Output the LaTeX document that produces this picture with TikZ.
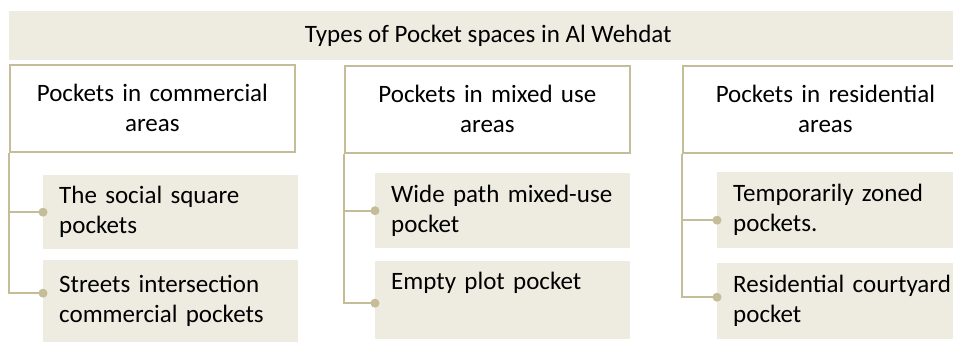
\documentclass[tikz,border=0pt]{standalone}
\usepackage{fontspec}
\setmainfont{Carlito}
\definecolor{tanline}{HTML}{C4BD97}
\definecolor{tanfill}{HTML}{EEECE1}
\begin{document}
\begin{tikzpicture}[x=1pt,y=-1pt,
  every node/.style={font=\fontsize{25}{30}\selectfont, text=black},
  titlebar/.style={fill=tanfill, draw=none, anchor=north west, inner sep=0pt,
    minimum width=958pt, minimum height=49pt},
  parentbox/.style={draw=tanline, line width=1.8pt, fill=white, anchor=north west,
    inner sep=0pt, align=center, text width=285pt, minimum height=87pt},
  childbox/.style={fill=tanfill, draw=none, anchor=north west, align=left,
    inner xsep=16pt, inner ysep=0pt, text width=223pt, minimum height=76pt},
  linkline/.style={draw=tanline, line width=1.8pt},
  linkdot/.style={fill=tanline}
]
\useasboundingbox (0,0) rectangle (953,342);
\clip (0,0) rectangle (953,342);

% heading bar
\node[titlebar] (top) at (9,11) {Types of Pocket spaces in Al Wehdat};

% category boxes
\node[parentbox] (com) at (9,64)   {Pockets in commercial\\areas};
\node[parentbox] (mix) at (344,65) {Pockets in mixed use\\areas};
\node[parentbox] (res) at (682,65) {Pockets in residential\\areas};

% pocket types
\node[childbox, minimum height=74pt] (soc) at (43,175)  {The social square\\pockets};
\node[childbox, minimum height=82pt] (str) at (43,260)  {Streets intersection\\commercial pockets};
\node[childbox, minimum height=75pt] (wid) at (375,173) {Wide path mixed-use\\pocket};
\node[childbox, minimum height=78pt] (emp) at (375,261) {Empty plot pocket\\\strut};
\node[childbox, minimum height=76pt] (tmp) at (717,172) {Temporarily zoned\\pockets.};
\node[childbox, minimum height=76pt] (cou) at (717,263) {Residential courtyard\\pocket};

% connectors
\draw[linkline] (com.south west) |- (soc.west);
\draw[linkline] (com.south west) |- ([yshift=8pt]str.west);
\draw[linkline] (mix.south west) |- (wid.west);
\draw[linkline] (mix.south west) |- ([yshift=-3pt]emp.west);
\draw[linkline] (res.south west) |- ([yshift=-10pt]tmp.west);
\draw[linkline] (res.south west) |- ([yshift=4pt]cou.west);

\fill[linkdot] (soc.west) circle (4.5);
\fill[linkdot] ([yshift=8pt]str.west) circle (4.5);
\fill[linkdot] (wid.west) circle (4.5);
\fill[linkdot] ([yshift=-3pt]emp.west) circle (4.5);
\fill[linkdot] ([yshift=-10pt]tmp.west) circle (4.5);
\fill[linkdot] ([yshift=4pt]cou.west) circle (4.5);
\end{tikzpicture}
\end{document}
